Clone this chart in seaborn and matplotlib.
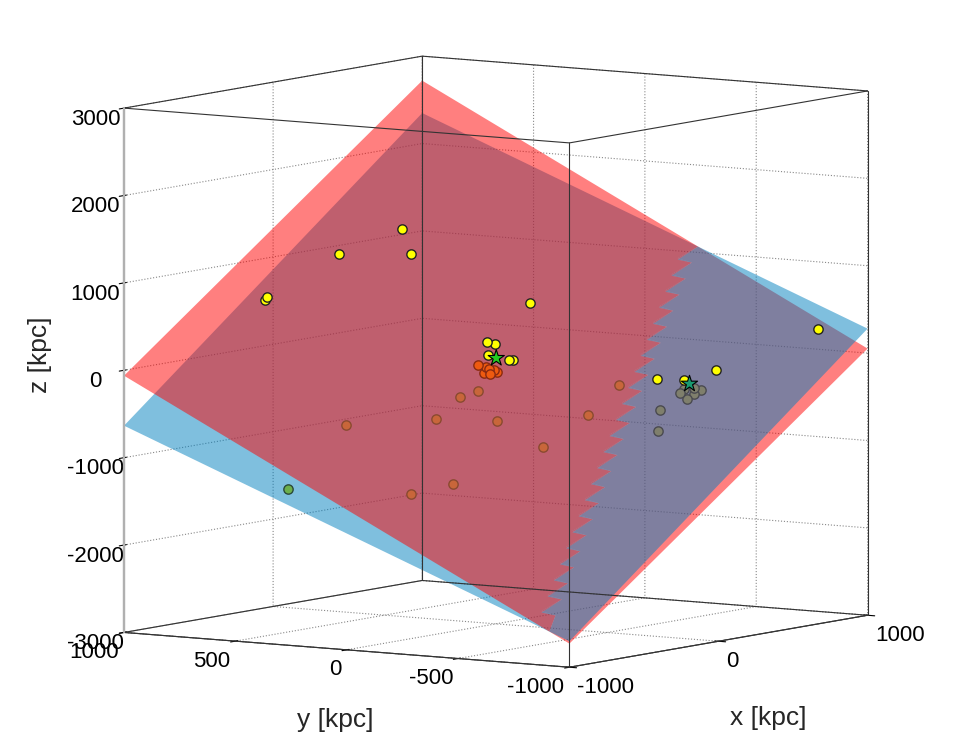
import numpy as np
import matplotlib
matplotlib.use("Agg")
import matplotlib.pyplot as plt
import seaborn as sns
from mpl_toolkits.mplot3d.art3d import Poly3DCollection

# --- data (kpc) ---
# planes z = a + b*x + c*y
red_plane = [-5.0, 1.391, 1.334]
blue_plane = [-177.0, 1.4915, 1.0345]

# non-satellite dwarfs (yellow)
dw_x = [-180, -304, -268, -339, -322, 82, 18, 41, 9, 46, 58, 337, 808, 814, 593]
dw_y = [300, 500, 200, 800, 820, -100, 50, 30, 40, -30, -40, -500, -450, -900, -450]
dw_z = [1510, 1226, 1272, 677, 634, 663, 208, 182, 64, 9, 7, -196, -246, 306, -295]

# Milky Way satellites / nearby dwarfs (orange)
mw_x = [-406, -101, -89, -43, 10, 169, -136, -119, 322, 381]
mw_y = [400, 200, 100, 50, 0, -100, 100, 300, -200, -300]
mw_z = [-678, -664, -397, -333, -683, -1009, -1378, -1535, -671, -316]

# MW close satellites (bright orange)
mwc_x = [-88, -49, -44, -25, -67, 25, -32]
mwc_y = [20, 10, 0, -10, -20, 10, 30]
mwc_z = [-17, -50, -72, -88, -119, -130, -127]

# M31 satellites (grey)
m31s_x = [357, 344, 560, 613, 701, 654, 587, 654]
m31s_y = [-500, -500, -450, -450, -450, -450, -450, -450]
m31s_z = [-557, -793, -433, -518, -442, -405, -396, -473]

# isolated green dwarf
gr_x = [-347]
gr_y = [700]
gr_z = [-1495]

# hosts: MW, M31
host_x = [3, 627]
host_y = [0, -450]
host_z = [40, -350]
host_col = ["#22cc22", "#1a9a70"]

xlim = (-1000, 1000)
ylim = (-1000, 1000)
zlim = (-3000, 3000)
xticks = [-1000, 0, 1000]
yticks = [-1000, -500, 0, 500, 1000]
zticks = [-3000, -2000, -1000, 0, 1000, 2000, 3000]

# --- style ---
sns.set_style("white")
plt.rcParams["font.family"] = ["Liberation Sans", "DejaVu Sans"]
plt.rcParams["axes.unicode_minus"] = False
plt.rcParams["grid.linestyle"] = ":"
plt.rcParams["grid.color"] = "#888888"
plt.rcParams["grid.linewidth"] = 0.8

fig = plt.figure(figsize=(9.6, 7.49), dpi=100)
# square 3d axes, large enough that nothing gets clipped at its border
ax = fig.add_axes([85 / 960, -23.5 / 749, 800 / 960, 800 / 749],
                  projection="3d", computed_zorder=False)
ax.set_proj_type("ortho")
ax.view_init(elev=6.7, azim=-146.2)
ax.set_xlim(*xlim)
ax.set_ylim(*ylim)
ax.set_zlim(*zlim)
ax.set_box_aspect((1, 1, 0.985), zoom=1.281 * 700 / 800)

for axis in (ax.xaxis, ax.yaxis, ax.zaxis):
    axis.set_pane_color((1, 1, 1, 0))
    axis.pane.set_edgecolor("none")
    axis.line.set_color("#444444")
    axis.line.set_linewidth(0.8)
ax.zaxis.line.set_color("#b0b0b0")
ax.zaxis.line.set_linewidth(1.6)

ax.set_xticks(xticks)
ax.set_yticks(yticks)
ax.set_zticks(zticks)
ax.tick_params(labelsize=16, colors="black")
ax.xaxis.set_tick_params(pad=-3)
ax.yaxis.set_tick_params(pad=-3)
for lab in ax.get_yticklabels():
    lab.set_horizontalalignment("right")
for lab in ax.get_xticklabels():
    lab.set_horizontalalignment("left")

fig.text(335 / 960, 1 - 720 / 749, "y [kpc]", fontsize=19, ha="center", va="center")
fig.text(768 / 960, 1 - 718 / 749, "x [kpc]", fontsize=19, ha="center", va="center")
fig.text(40 / 960, 1 - 355 / 749, "z [kpc]", fontsize=19, ha="center", va="center",
         rotation=90)

# --- planes, split along their line of intersection ---
x0, x1 = xlim
y0, y1 = ylim
z0, z1 = zlim
da = red_plane[0] - blue_plane[0]
db = red_plane[1] - blue_plane[1]
dc = red_plane[2] - blue_plane[2]
p_right = np.array([x1, -(da + db * x1) / dc])
p_left = np.array([x0, -(da + db * x0) / dc])
nrm = np.array([db, dc]) / np.hypot(db, dc)  # towards "red above blue"

# saw-tooth edge like the rendering of intersecting meshes
n_teeth = 24
depth = 55.0
edge = [p_right]
for k in range(n_teeth):
    s1 = p_right + (k + 1) / n_teeth * (p_left - p_right)
    if k < n_teeth - 1:
        edge.append(s1 + depth * nrm)
    edge.append(s1)
edge = np.array(edge)

side_red = np.vstack([edge, [[x0, y1], [x1, y1]]])    # red lies above blue here
side_blue = np.vstack([edge, [[x0, y0], [x1, y0]]])   # blue lies above red here


def lift(poly, coef):
    a, b, c = coef
    return [[(px, py, a + b * px + c * py) for px, py in poly]]


red_col = (1.0, 0.0, 0.0, 0.5)
blue_col = (0.0, 0.5, 0.75, 0.5)
pieces = [
    (side_red, blue_plane, blue_col, 2),
    (side_blue, red_plane, red_col, 2),
    (side_red, red_plane, red_col, 3),
    (side_blue, blue_plane, blue_col, 3),
]
for poly, coef, col, zo in pieces:
    pc = Poly3DCollection(lift(poly, coef), facecolors=[col], edgecolors="none",
                          linewidths=0)
    pc.set_zorder(zo)
    ax.add_collection3d(pc)

# --- box edges ---
corners = [(x0, y0), (x1, y0), (x1, y1), (x0, y1)]
for zz in (z0, z1):
    for k in range(4):
        p, q = corners[k], corners[(k + 1) % 4]
        ax.plot([p[0], q[0]], [p[1], q[1]], [zz, zz], color="#333333", lw=0.8, zorder=4)
for (px, py) in corners:
    col, lw = ("#b0b0b0", 1.6) if (px, py) == (x0, y1) else ("#333333", 0.8)
    ax.plot([px, px], [py, py], [z0, z1], color=col, lw=lw, zorder=4)

# --- points ---
kw = dict(depthshade=False, s=45, linewidths=1.0, zorder=5)
ax.scatter(mw_x, mw_y, mw_z, c="#c8663a", edgecolors="#8a4a30", **kw)
ax.scatter(mwc_x, mwc_y, mwc_z, c="#ee5a10", edgecolors="#8a2a10", **kw)
ax.scatter(m31s_x, m31s_y, m31s_z, c="#7f7f6c", edgecolors="#4a4a50", **kw)
ax.scatter(gr_x, gr_y, gr_z, c="#6cb04c", edgecolors="#2a4a3a", **kw)
ax.scatter(dw_x, dw_y, dw_z, c="#ffff00", edgecolors="#222222", **kw)
ax.scatter(host_x, host_y, host_z, c=host_col, marker="*", s=150,
           edgecolors="black", linewidths=0.8, depthshade=False, zorder=6)

fig.savefig("out.png", dpi=100)
